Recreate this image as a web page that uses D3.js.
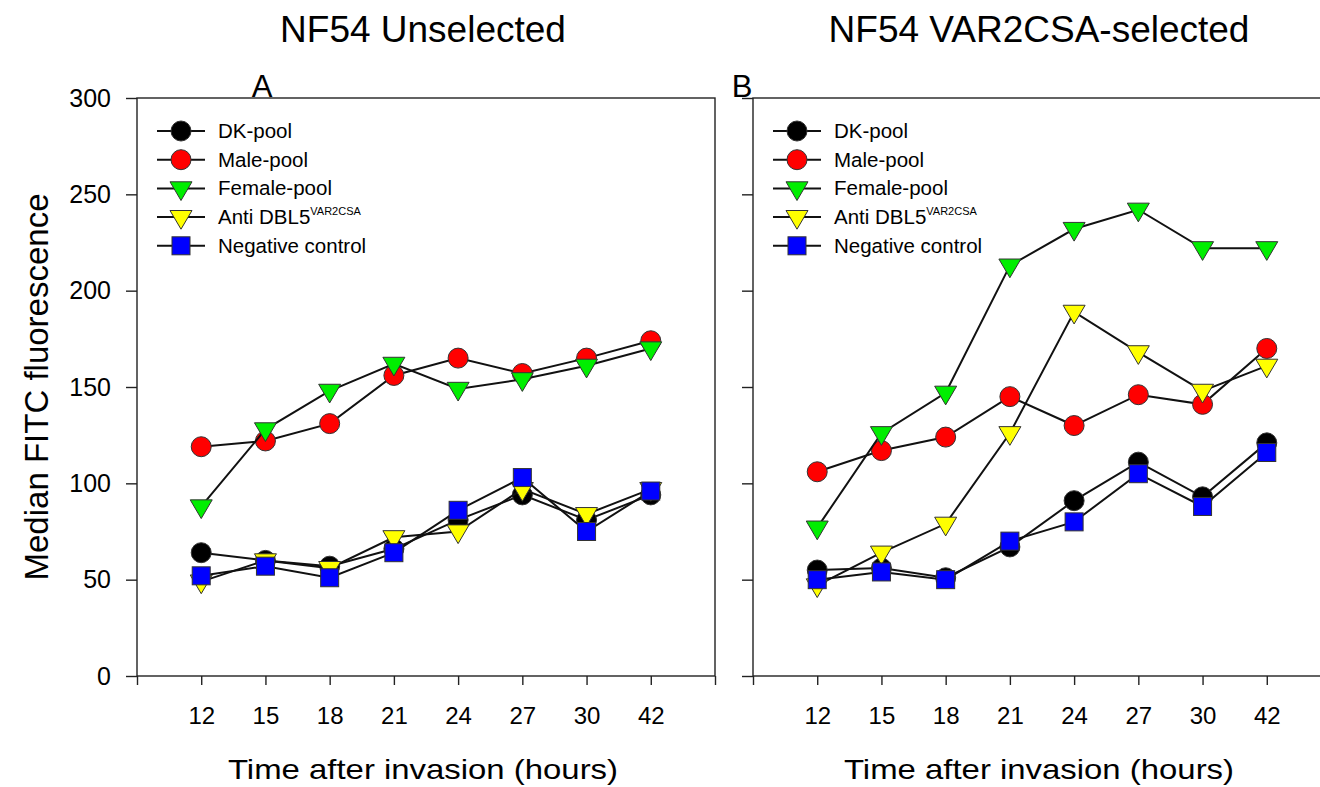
<!DOCTYPE html>
<html>
<head>
<meta charset="utf-8">
<script src="https://cdn.jsdelivr.net/npm/d3@7"></script>
<style>
body { margin: 0; background: #fff; }
text { font-family: "Liberation Sans", Arial, sans-serif; fill: #000; }
</style>
</head>
<body>
<div id="viz"></div>
<script>
var hours = ["12", "15", "18", "21", "24", "27", "30", "42"];
var seriesNames = ["DK-pool", "Male-pool", "Female-pool", "Anti DBL5", "Negative control"];
var yTicks = [0, 50, 100, 150, 200, 250, 300];

// panel A - NF54 unselected
var dkA = [64, 60, 57, 66, 81, 94, 81, 94];
var maleA = [119, 122, 131, 156, 165, 157, 165, 174];
var femaleA = [88, 128, 148, 162, 149, 154, 161, 170];
var antiA = [49, 60, 56, 72, 75, 97, 84, 97];
var negA = [52, 57, 51, 64, 86, 103, 75, 96];

// panel B - NF54 VAR2CSA-selected
var dkB = [55, 56, 51, 67, 91, 111, 93, 121];
var maleB = [106, 117, 124, 145, 130, 146, 141, 170];
var femaleB = [77, 126, 147, 213, 232, 242, 222, 222];
var antiB = [47, 64, 79, 126, 189, 168, 148, 161];
var negB = [50, 54, 50, 70, 80, 105, 88, 116];

var fills = ["#000000", "#ff0000", "#00ee00", "#ffff00", "#0000ff"];
var shapes = ["circle", "circle", "tri", "tri", "square"];

var svg = d3.select("#viz")
    .append("svg")
    .attr("width", 1320)
    .attr("height", 787);

function marker(g, shape, fill, cx, cy) {
    if (shape == "circle") {
        g.append("circle").attr("cx", cx).attr("cy", cy).attr("r", 10)
            .style("fill", fill).style("stroke", "#333").style("stroke-width", 1);
    } else if (shape == "tri") {
        var s = 11;
        g.append("path")
            .attr("d", "M" + (cx - s) + "," + (cy - s * 0.6) + "L" + (cx + s) + "," + (cy - s * 0.6) + "L" + cx + "," + (cy + s * 1.1) + "Z")
            .style("fill", fill).style("stroke", "#333").style("stroke-width", 1);
    } else {
        g.append("rect").attr("x", cx - 9).attr("y", cy - 9).attr("width", 18).attr("height", 18)
            .style("fill", fill).style("stroke", "#333").style("stroke-width", 1);
    }
}

function panel(left, title, letter, data, showY) {
    var x = d3.scaleLinear().domain([0, 9]).range([left, left + 578]);
    var y = d3.scaleLinear().domain([0, 300]).range([676, 98]);
    var g = svg.append("g");

    // frame
    g.append("rect").attr("x", x(0)).attr("y", y(300))
        .attr("width", x(9) - x(0)).attr("height", y(0) - y(300))
        .style("fill", "none").style("stroke", "#222").style("stroke-width", 1.4);

    var yAxis = g.append("g").attr("transform", "translate(" + x(0) + ",0)")
        .call(d3.axisLeft(y).tickValues(yTicks).tickSize(11).tickPadding(15)
            .tickFormat(function(d) { return showY ? d : ""; }));
    var xAxis = g.append("g").attr("transform", "translate(0," + y(0) + ")")
        .call(d3.axisBottom(x).tickValues(d3.range(0, 10)).tickSize(9).tickPadding(17)
            .tickFormat(function(d) { return d >= 1 && d <= 8 ? hours[d - 1] : ""; }));
    [yAxis, xAxis].forEach(function(a) {
        a.select(".domain").remove();
        a.selectAll("line").style("stroke", "#222").style("stroke-width", 1.4);
    });
    yAxis.selectAll("text").style("font-size", "25px").style("font-family", "Liberation Sans, Arial");
    xAxis.selectAll("text").style("font-size", "24px").style("font-family", "Liberation Sans, Arial")
        .attr("dy", "0.9em");

    g.append("text").attr("x", (x(0) + x(9)) / 2 - 3).attr("y", 42)
        .attr("text-anchor", "middle").style("font-size", "37px").text(title);
    g.append("text").attr("x", letter == "A" ? left + 125 : left - 11).attr("y", 97)
        .attr("text-anchor", "middle").style("font-size", "31px").text(letter);
    g.append("text").attr("x", (x(0) + x(9)) / 2 - 3).attr("y", 779)
        .attr("text-anchor", "middle").style("font-size", "28px")
        .attr("textLength", 390).attr("lengthAdjust", "spacingAndGlyphs")
        .text("Time after invasion (hours)");

    var line = d3.line().x(function(d, i) { return x(i + 1); }).y(function(d) { return y(d); });
    data.forEach(function(vals, k) {
        g.append("path").attr("d", line(vals))
            .style("fill", "none").style("stroke", "#111").style("stroke-width", 2);
        vals.forEach(function(v, i) { marker(g, shapes[k], fills[k], x(i + 1), y(v)); });
    });

    // legend
    var lx = left + 20;
    seriesNames.forEach(function(name, k) {
        var ly = 131 + k * 28.7;
        g.append("line").attr("x1", lx).attr("x2", lx + 48).attr("y1", ly).attr("y2", ly)
            .style("stroke", "#111").style("stroke-width", 2);
        marker(g, shapes[k], fills[k], lx + 24, ly);
        var t = g.append("text").attr("x", lx + 61).attr("y", ly + 7).style("font-size", "20.5px").text(name);
        if (k == 3) {
            t.append("tspan").attr("dy", -9).style("font-size", "11px").text("VAR2CSA");
        }
    });
}

panel(137, "NF54 Unselected", "A", [dkA, maleA, femaleA, antiA, negA], true);
panel(753, "NF54 VAR2CSA-selected", "B", [dkB, maleB, femaleB, antiB, negB], false);

svg.append("text")
    .attr("transform", "translate(48,387) rotate(-90)")
    .attr("text-anchor", "middle").style("font-size", "33px")
    .text("Median FITC fluorescence");
</script>
</body>
</html>
